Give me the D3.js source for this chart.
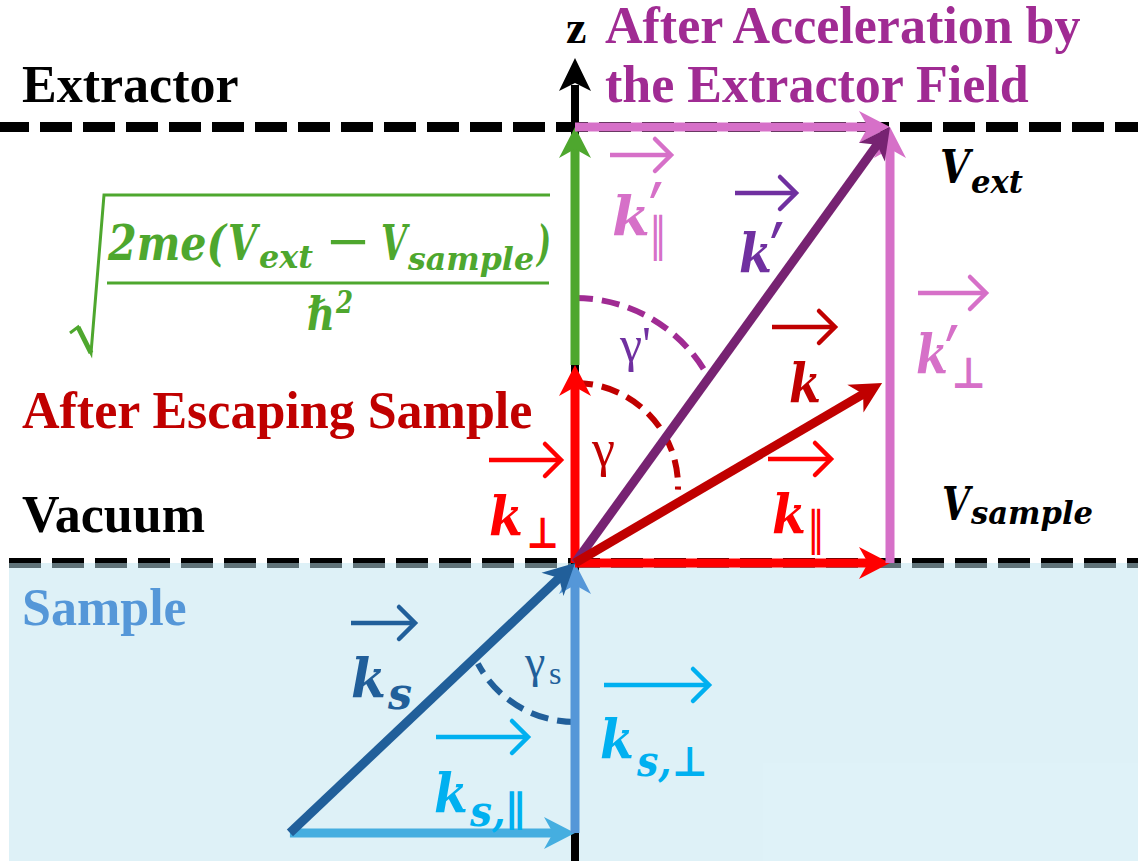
<!DOCTYPE html>
<html>
<head>
<meta charset="utf-8">
<script src="https://cdn.jsdelivr.net/npm/d3@7"></script>
<style>
  body { margin: 0; background: #fff; }
  svg { display: block; }
</style>
</head>
<body>
<div id="chart"></div>
<script>
const width = 1138;
const height = 861;

// Wave-vector components, in units where k_par = 1 (x) and k'_perp = 1 (z)
const surfaceZ = [0, 1];                       // sample surface, extractor
const vectorIds = ["ksPar", "ksPerp", "ks", "kPar", "kpPerp", "gain", "kPerp", "kpPar", "kPrime", "k"];
const vectorFrom = [[-0.905, -0.619], [0, -0.619], [-0.905, -0.619], [0, 0], [1, 0], [0, 0.454], [0, 0], [0, 1], [0, 0], [0, 0]];
const vectorTo = [[0, -0.619], [0, 0], [0, 0], [1, 0], [1, 1], [0, 1], [0, 0.454], [1, 1], [1, 1], [0.975, 0.413]];
const vectorColors = ["#45AEE0", "#5597D8", "#215F9A", "#FF0000", "#D670C8", "#4EA72E", "#FF0000", "#D670C8", "#772372", "#C00000"];

const serif = "'Liberation Serif', 'Times New Roman', serif";
const math = "'DejaVu Serif', serif";

const svg = d3.select("#chart").append("svg")
  .attr("width", width)
  .attr("height", height);

const x = d3.scaleLinear().domain([0, 1]).range([575, 890]);
const y = d3.scaleLinear().domain([0, 1]).range([563, 127]);

// dashed boundaries
svg.selectAll("line.surface")
  .data(surfaceZ)
  .join("line")
  .attr("class", "surface")
  .attr("x1", (d) => (d === 0 ? 9 : -3))
  .attr("x2", width)
  .attr("y1", (d) => y(d))
  .attr("y2", (d) => y(d))
  .attr("stroke", "#000")
  .attr("stroke-width", 10)
  .attr("stroke-dasharray", "32,11");

// sample region (half transparent so the lower half of the dashes shows grey)
svg.append("rect")
  .attr("x", 9)
  .attr("y", y(0))
  .attr("width", width - 9)
  .attr("height", height - y(0))
  .attr("fill", "rgb(190,228,240)")
  .attr("fill-opacity", 0.5);

// z axis
svg.append("line")
  .attr("x1", x(0)).attr("x2", x(0))
  .attr("y1", height).attr("y2", 85)
  .attr("stroke", "#000").attr("stroke-width", 8);
svg.append("path")
  .attr("d", `M${x(0)},58L${x(0) + 16},91L${x(0)},83L${x(0) - 16},91Z`)
  .attr("fill", "#000");

// angle arcs (drawn before vectors so the vertical arrows cover their ends)
const arcs = [
  { cx: x(0), cy: 450, r: 152, a0: -90, a1: -30, color: "#A02B93" },
  { cx: x(0), cy: 486, r: 103, a0: -90, a1: 2, color: "#C00000" },
  { cx: x(0), cy: 612, r: 110, a0: 90, a1: 152, color: "#215F9A" }
];
arcs.forEach((a) => {
  const p = d3.path();
  p.arc(a.cx, a.cy, a.r, (a.a0 * Math.PI) / 180, (a.a1 * Math.PI) / 180);
  svg.append("path")
    .attr("d", p.toString())
    .attr("fill", "none")
    .attr("stroke", a.color)
    .attr("stroke-width", 6)
    .attr("stroke-dasharray", "18,9");
});

function arrow(p0, p1, color) {
  const dx = p1[0] - p0[0], dy = p1[1] - p0[1];
  const len = Math.hypot(dx, dy);
  const ux = dx / len, uy = dy / len, nx = -uy, ny = ux;
  const L = 31, hw = 16, notch = 9;
  const n = [p1[0] - ux * (L - notch), p1[1] - uy * (L - notch)];
  const b1 = [p1[0] - ux * L + nx * hw, p1[1] - uy * L + ny * hw];
  const b2 = [p1[0] - ux * L - nx * hw, p1[1] - uy * L - ny * hw];
  svg.append("line")
    .attr("x1", p0[0]).attr("y1", p0[1])
    .attr("x2", n[0] + ux * 2).attr("y2", n[1] + uy * 2)
    .attr("stroke", color).attr("stroke-width", 9);
  svg.append("path")
    .attr("d", `M${p1}L${b1}L${n}L${b2}Z`)
    .attr("fill", color);
}

vectorIds.forEach((id, i) => {
  const p0 = [x(vectorFrom[i][0]), y(vectorFrom[i][1])];
  const p1 = [x(vectorTo[i][0]), y(vectorTo[i][1])];
  arrow(p0, p1, vectorColors[i]);
});

// text helpers
function txt(px, py, s, o) {
  const el = svg.append("text")
    .attr("x", px).attr("y", py)
    .attr("font-family", o.family || serif)
    .attr("font-size", o.size)
    .attr("font-weight", o.weight || "bold")
    .attr("font-style", o.style || "normal")
    .attr("fill", o.color || "#000")
    .text(s);
  if (o.len) el.attr("textLength", o.len).attr("lengthAdjust", "spacingAndGlyphs");
  return el;
}
function vecBar(x1, x2, py, color) {
  svg.append("line")
    .attr("x1", x1).attr("x2", x2 - 1).attr("y1", py).attr("y2", py)
    .attr("stroke", color).attr("stroke-width", 4.5);
  svg.append("path")
    .attr("d", `M${x2 - 16},${py - 16}L${x2},${py}L${x2 - 16},${py + 16}`)
    .attr("fill", "none").attr("stroke", color).attr("stroke-width", 4.5)
    .attr("stroke-linecap", "round");
}
// tall slanted prime, top edge at py
function prime(px, py, color) {
  svg.append("text")
    .attr("transform", `translate(${px},${py + 66}) scale(1.2,2.3)`)
    .attr("font-family", "'DejaVu Sans', sans-serif")
    .attr("font-weight", "bold")
    .attr("font-style", "italic")
    .attr("font-size", 38)
    .attr("fill", color)
    .text("′");
}
const m = (size, color, len) => ({ family: math, style: "italic", size, color, len });

// plain labels
txt(22, 102, "Extractor", { size: 52 });
txt(22, 532, "Vacuum", { size: 52 });
txt(22, 428, "After Escaping Sample", { size: 52, color: "#C00000" });
txt(22, 625, "Sample", { size: 52, color: "#5597D8" });
txt(605, 43, "After Acceleration by", { size: 52, color: "#A02B93" });
txt(605, 102, "the Extractor Field", { size: 52, color: "#A02B93" });
txt(566, 43, "z", { size: 46 });

// potentials
txt(940, 183, "V", m(46, "#000", 30));
txt(971, 193, "ext", m(32, "#000", 52));
txt(942, 520, "V", m(46, "#000", 28));
txt(971, 524, "sample", m(32, "#000", 122));

// vector labels
const pink = "#D670C8";
vecBar(610, 671, 155, pink);
txt(612, 235, "k", m(54, pink, 38));
prime(650, 180, pink);
txt(651, 256, "∥", m(50, pink, 14));

vecBar(735, 796, 193, "#7030A0");
txt(739, 272, "k", m(54, "#7030A0", 33));
prime(771, 220, "#7030A0");

vecBar(918, 986, 293, pink);
txt(916, 373, "k", m(54, pink, 32));
prime(946, 323, pink);
txt(951, 388, "⊥", m(44, pink, 35));

vecBar(772, 835, 327, "#C00000");
txt(789, 402, "k", m(54, "#C00000", 32));

vecBar(768, 831, 459, "#FF0000");
txt(772, 533, "k", m(54, "#FF0000", 34));
txt(809, 550, "∥", m(50, "#FF0000", 14));

vecBar(489, 561, 460, "#FF0000");
txt(489, 535, "k", m(54, "#FF0000", 34));
txt(526, 548, "⊥", m(44, "#FF0000", 33));

txt(592, 466, "γ", { size: 52, weight: "normal", color: "#C00000" });
txt(620, 361, "γ'", { size: 50, weight: "normal", color: "#7030A0" });

vecBar(351, 415, 623, "#215F9A");
txt(351, 697, "k", m(54, "#215F9A", 35));
txt(388, 709, "s", m(44, "#215F9A", 24));

txt(525, 677, "γ", { size: 46, weight: "normal", color: "#215F9A" });
txt(549, 684, "s", { size: 32, weight: "normal", color: "#215F9A" });

const cyan = "#00B0F0";
vecBar(436, 528, 737, cyan);
txt(434, 812, "k", m(54, cyan, 34));
txt(470, 826, "s,∥", m(42, cyan, 56));

vecBar(604, 709, 685, cyan);
txt(600, 758, "k", m(54, cyan, 34));
txt(637, 776, "s,⊥", m(42, cyan, 71));

// green formula: sqrt(2me(V_ext - V_sample) / hbar^2)
const green = "#4EA72E";
svg.append("path")
  .attr("d", "M70,333L78,327L91,353L104,195L550,195")
  .attr("fill", "none").attr("stroke", green).attr("stroke-width", 3)
  .attr("stroke-linejoin", "miter");
svg.append("path")
  .attr("d", "M78,327L91,353")
  .attr("stroke", green).attr("stroke-width", 5);
txt(108, 260, "2me(", m(48, green, 118));
txt(228, 260, "V", m(48, green, 29));
txt(259, 268, "ext", m(32, green, 54));
txt(327, 262, "−", { family: serif, size: 60, color: green, len: 42 });
txt(381, 260, "V", m(48, green, 26));
txt(408, 270, "sample", m(32, green, 126));
txt(537, 260, ")", m(48, green, 14));
svg.append("line")
  .attr("x1", 107).attr("x2", 549).attr("y1", 283).attr("y2", 283)
  .attr("stroke", green).attr("stroke-width", 3);
txt(307, 330, "ℏ", m(46, green, 28));
txt(336, 313, "2", m(32, green, 17));
</script>
</body>
</html>
